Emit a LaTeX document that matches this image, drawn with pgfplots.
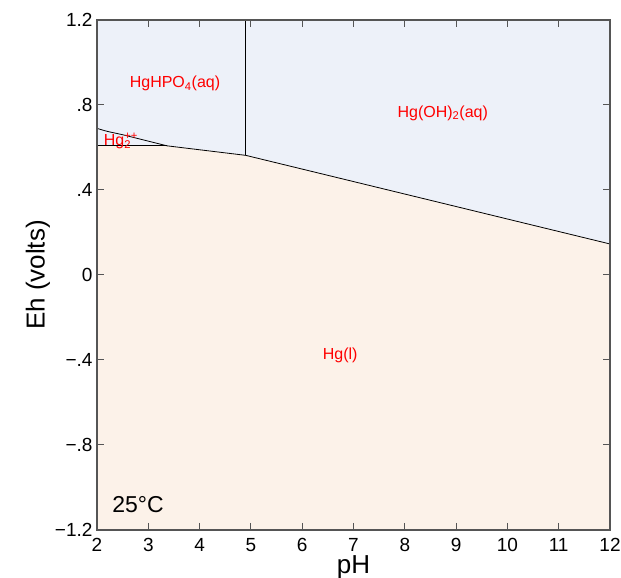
\documentclass[border=0pt]{standalone}
\usepackage{pgfplots}
\pgfplotsset{compat=1.18}
\usepackage{fontspec}
\setmainfont{Liberation Sans}
\definecolor{upperblue}{HTML}{EDF1F9}
\definecolor{lowerorange}{HTML}{FCF2E9}
\definecolor{axisgray}{HTML}{555555}
\begin{document}
\begin{tikzpicture}
\begin{axis}[
  scale only axis,
  width=513pt, height=510pt,
  xmin=2, xmax=12, ymin=-1.2, ymax=1.2,
  xtick={2,3,4,5,6,7,8,9,10,11,12},
  xticklabels={2,3,4,5,6,7,8,9,10,11,12},
  ytick={-1.2,-0.8,-0.4,0,0.4,0.8,1.2},
  yticklabels={−1.2,−.8,−.4,0,.4,.8,1.2},
  axis on top,
  tick align=outside,
  major tick length=-7pt,
  major tick style={draw=axisgray, line width=1pt},
  axis line style={draw=axisgray, line width=1.5pt},
  ticklabel style={font=\fontsize{19}{21}\selectfont},
  xticklabel style={yshift=-12pt},
  yticklabel style={xshift=-8pt},
  xlabel={pH}, ylabel={Eh (volts)},
  label style={font=\fontsize{26}{28}\selectfont},
  xlabel style={yshift=3pt},
  ylabel style={yshift=-2pt},
]
\addplot[fill=upperblue, draw=none] coordinates {
  (2,-1.2) (12,-1.2) (12,1.2) (2,1.2)} -- cycle;
\addplot[fill=lowerorange, draw=none] coordinates {
  (2,-1.2) (12,-1.2) (12,0.146) (4.90,0.563) (3.36,0.608) (2,0.608)} -- cycle;
\addplot[black, line width=0.8pt] coordinates {(2,0.608) (3.36,0.608)};
\addplot[black, line width=0.8pt, smooth] coordinates {(2,0.690) (2.2,0.676) (2.5,0.660) (2.9,0.636) (3.36,0.608)};
\addplot[black, line width=0.8pt] coordinates {(3.36,0.608) (4.90,0.563)};
\addplot[black, line width=0.8pt] coordinates {(4.90,0.563) (4.90,1.2)};
\addplot[black, line width=0.8pt] coordinates {(4.90,0.563) (12,0.146)};
\node[red, font=\fontsize{16}{18}\selectfont] at (axis cs:3.52,0.90) {HgHPO\textsubscript{4}(aq)};
\node[red, font=\fontsize{16}{18}\selectfont] at (axis cs:8.74,0.762) {Hg(OH)\textsubscript{2}(aq)};
\node[red, font=\fontsize{16}{18}\selectfont] at (axis cs:6.74,-0.376) {Hg(l)};
\node[red, font=\fontsize{16}{18}\selectfont] at (axis cs:2.40,0.63) {Hg\rlap{\textsuperscript{++}}\textsubscript{2}};
\node[black, font=\fontsize{23}{25}\selectfont] at (axis cs:2.80,-1.08) {25°C};
\end{axis}
\pgfresetboundingbox
\path ([xshift=-97pt,yshift=20pt]current axis.north west) rectangle ([xshift=11pt,yshift=-48pt]current axis.south east);
\end{tikzpicture}
\end{document}
